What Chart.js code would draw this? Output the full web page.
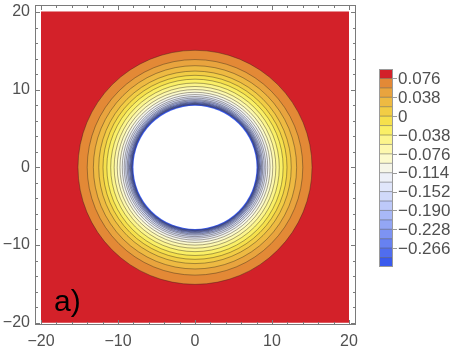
<!DOCTYPE html>
<html>
<head>
<meta charset="utf-8">
<script src="https://cdn.jsdelivr.net/npm/chart.js@4.4.0/dist/chart.umd.min.js"></script>
<style>
  html, body { margin: 0; padding: 0; background: #fff; }
</style>
</head>
<body>
<canvas id="chart" width="461" height="352"></canvas>
<script>
// contour levels (upper edge of each band below the red one)
const levels = [0.076, 0.057, 0.038, 0.019, 0, -0.019, -0.038, -0.057, -0.076, -0.095,
  -0.114, -0.133, -0.152, -0.171, -0.190, -0.209, -0.228, -0.247, -0.266, -0.285];
// radius where each level is crossed
const contourRadii = [15.2, 14.0, 13.2, 12.5, 11.95, 11.45, 10.95, 10.5, 10.1, 9.75,
  9.45, 9.2, 9.0, 8.8, 8.65, 8.52, 8.41, 8.32, 8.24, 8.17];
const holeRadius = 8.0;
const squareExtent = [-20, 20];
// band colours, top of the colour bar to the bottom
const bandColors = ['#d32129', '#e38936', '#e9a43e', '#eeba42', '#f2cd45', '#f6e04c',
  '#faef66', '#fcf58c', '#fdf8ae', '#fcfacc', '#f6f6e8', '#edf0f8', '#e0e6fb', '#d0d9fa',
  '#bdc9f9', '#a8b8f7', '#93a6f5', '#7d93f3', '#6781f1', '#506def', '#3a5aed'];
const axisTicks = [-20, -18, -16, -14, -12, -10, -8, -6, -4, -2, 0, 2, 4, 6, 8, 10, 12, 14, 16, 18, 20];
const majorTicks = [-20, -10, 0, 10, 20];
const panelLabel = 'a)';

const FONT = '"Liberation Sans", Arial, sans-serif';
const TEXT = '#505050';
const FRAME = '#7a7a7a';

const fmtAxis = v => (v < 0 ? '\u2212' + Math.abs(v) : String(v));
const fmtLevel = v => (v === 0 ? '0' : (v < 0 ? '\u2212' : '') + Math.abs(v).toFixed(3));

function radiusPx(chart, r) {
  const s = chart.scales.x;
  return s.getPixelForValue(r) - s.getPixelForValue(0);
}

const discs = contourRadii.map(r => ({ x: 0, y: 0, r }));
discs.push({ x: 0, y: 0, r: holeRadius });

const framePlugin = {
  id: 'frame',
  afterDraw(chart) {
    const { ctx, chartArea: a, scales: { x, y } } = chart;
    ctx.save();
    ctx.strokeStyle = FRAME;
    ctx.lineWidth = 1;
    ctx.strokeRect(a.left + 0.5, a.top + 0.5, a.width - 1, a.height - 1);
    ctx.beginPath();
    axisTicks.forEach(v => {
      const len = majorTicks.includes(v) ? 5 : 3;
      const px = Math.round(x.getPixelForValue(v)) + 0.5;
      const py = Math.round(y.getPixelForValue(v)) + 0.5;
      ctx.moveTo(px, a.bottom); ctx.lineTo(px, a.bottom - len);
      ctx.moveTo(px, a.top); ctx.lineTo(px, a.top + len);
      ctx.moveTo(a.left, py); ctx.lineTo(a.left + len, py);
      ctx.moveTo(a.right, py); ctx.lineTo(a.right - len, py);
    });
    ctx.stroke();

    // panel label
    ctx.fillStyle = '#000';
    ctx.font = '30px ' + FONT;
    ctx.textBaseline = 'alphabetic';
    ctx.fillText(panelLabel, 54, 311);

    // colour bar
    const left = 379, top = 69, w = 14, h = 198 / bandColors.length;
    bandColors.forEach((c, i) => {
      ctx.fillStyle = c;
      ctx.fillRect(left, top + i * h, w, h);
    });
    ctx.strokeStyle = 'rgba(60,60,60,0.55)';
    ctx.lineWidth = 0.8;
    ctx.beginPath();
    for (let i = 1; i < bandColors.length; i++) {
      ctx.moveTo(left, top + i * h); ctx.lineTo(left + w, top + i * h);
    }
    ctx.stroke();
    ctx.strokeStyle = '#9a9a9a';
    ctx.lineWidth = 1;
    ctx.strokeRect(left + 0.5, top + 0.5, w - 1, 198 - 1);
    ctx.font = '17px ' + FONT;
    ctx.fillStyle = TEXT;
    ctx.textBaseline = 'middle';
    ctx.textAlign = 'left';
    levels.forEach((v, i) => {
      if (i % 2) return;
      const ty = top + (i + 1) * h;
      ctx.strokeStyle = '#9a9a9a';
      ctx.beginPath();
      ctx.moveTo(left + w, Math.round(ty) + 0.5); ctx.lineTo(left + w + 4, Math.round(ty) + 0.5);
      ctx.stroke();
      ctx.fillText(fmtLevel(v), 398, ty + 1);
    });
    ctx.restore();
  }
};

new Chart(document.getElementById('chart'), {
  type: 'scatter',
  data: {
    datasets: [
      {
        type: 'line',
        data: [{ x: squareExtent[0], y: squareExtent[1] }, { x: squareExtent[1], y: squareExtent[1] }],
        fill: { value: squareExtent[0] },
        backgroundColor: bandColors[0],
        borderColor: bandColors[0],
        borderWidth: 1,
        pointRadius: 0,
        order: 2
      },
      {
        data: discs,
        order: 1,
        pointStyle: 'circle',
        pointRadius: ctx => radiusPx(ctx.chart, ctx.raw.r),
        pointBackgroundColor: ctx => (ctx.dataIndex < contourRadii.length ? bandColors[ctx.dataIndex + 1] : '#ffffff'),
        pointBorderColor: ctx => (ctx.dataIndex < contourRadii.length ? 'rgba(45,35,25,0.5)' : 'rgba(0,0,0,0)'),
        pointBorderWidth: 0.8
      }
    ]
  },
  options: {
    responsive: false,
    animation: false,
    events: [],
    devicePixelRatio: 1,
    layout: { padding: { top: 5, right: 105, left: 0, bottom: 0 } },
    plugins: { legend: { display: false }, tooltip: { enabled: false } },
    scales: {
      x: {
        type: 'linear',
        min: -20.78,
        max: 20.91,
        grid: { display: false, drawTicks: false },
        border: { display: false },
        ticks: {
          stepSize: 2, includeBounds: false, autoSkip: false, maxRotation: 0,
          padding: 7, color: TEXT, font: { family: FONT, size: 16 },
          callback: v => (v % 10 === 0 ? fmtAxis(v) : '')
        },
        afterFit: s => { s.height = 27; s.paddingLeft = 0; s.paddingRight = 0; }
      },
      y: {
        type: 'linear',
        min: -20.3,
        max: 20.9,
        grid: { display: false, drawTicks: false },
        border: { display: false },
        ticks: {
          stepSize: 2, includeBounds: false, autoSkip: false,
          padding: 5, color: TEXT, font: { family: FONT, size: 16 },
          callback: v => (v % 10 === 0 ? fmtAxis(v) : '')
        },
        afterFit: s => { s.width = 35; s.paddingTop = 0; s.paddingBottom = 0; }
      }
    }
  },
  plugins: [framePlugin]
});
</script>
</body>
</html>
